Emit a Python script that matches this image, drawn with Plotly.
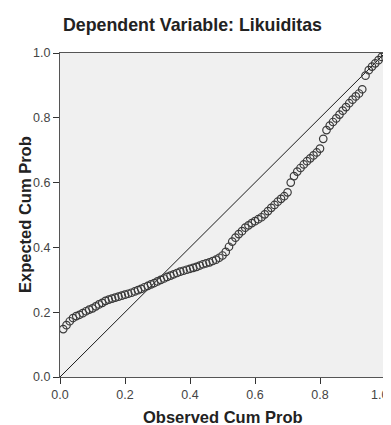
import plotly.graph_objects as go

observed_cum_prob = [
    0.01, 0.02, 0.03, 0.04, 0.05, 0.06, 0.07, 0.08, 0.09, 0.10,
    0.11, 0.12, 0.13, 0.14, 0.15, 0.16, 0.17, 0.18, 0.19, 0.20,
    0.21, 0.22, 0.23, 0.24, 0.25, 0.26, 0.27, 0.28, 0.29, 0.30,
    0.31, 0.32, 0.33, 0.34, 0.35, 0.36, 0.37, 0.38, 0.39, 0.40,
    0.41, 0.42, 0.43, 0.44, 0.45, 0.46, 0.47, 0.48, 0.49, 0.50,
    0.51, 0.52, 0.53, 0.54, 0.55, 0.56, 0.57, 0.58, 0.59, 0.60,
    0.61, 0.62, 0.63, 0.64, 0.65, 0.66, 0.67, 0.68, 0.69, 0.70,
    0.71, 0.72, 0.73, 0.74, 0.75, 0.76, 0.77, 0.78, 0.79, 0.80,
    0.81, 0.82, 0.83, 0.84, 0.85, 0.86, 0.87, 0.88, 0.89, 0.90,
    0.91, 0.92, 0.93, 0.94, 0.95, 0.96, 0.97, 0.98, 0.99, 1.00,
]

expected_cum_prob = [
    0.148, 0.160, 0.172, 0.182, 0.188, 0.192, 0.197, 0.203, 0.208, 0.212,
    0.218, 0.224, 0.229, 0.235, 0.239, 0.242, 0.245, 0.248, 0.251, 0.254,
    0.257, 0.260, 0.264, 0.268, 0.272, 0.277, 0.281, 0.286, 0.290, 0.295,
    0.300, 0.304, 0.309, 0.313, 0.317, 0.321, 0.325, 0.328, 0.331, 0.334,
    0.337, 0.340, 0.344, 0.348, 0.351, 0.354, 0.358, 0.362, 0.368, 0.375,
    0.386, 0.402, 0.418, 0.430, 0.441, 0.450, 0.461, 0.468, 0.475, 0.481,
    0.487, 0.493, 0.502, 0.512, 0.522, 0.531, 0.541, 0.550, 0.558, 0.570,
    0.600, 0.620, 0.634, 0.645, 0.656, 0.666, 0.675, 0.684, 0.693, 0.705,
    0.735, 0.762, 0.776, 0.787, 0.798, 0.810, 0.822, 0.833, 0.845, 0.856,
    0.866, 0.875, 0.888, 0.930, 0.947, 0.958, 0.968, 0.978, 0.988, 0.997,
]

reference_line = [0.0, 1.0]
tick_values = [0.0, 0.2, 0.4, 0.6, 0.8, 1.0]
tick_labels = ["0.0", "0.2", "0.4", "0.6", "0.8", "1.0"]

FONT = "Liberation Sans, Arial, sans-serif"
TICK_FONT = dict(family=FONT, size=12.5, color="#444444")

fig = go.Figure()
fig.add_trace(go.Scatter(
    x=reference_line, y=reference_line, mode="lines",
    line=dict(color="#1a1a1a", width=1), hoverinfo="skip", showlegend=False,
))
fig.add_trace(go.Scatter(
    x=observed_cum_prob, y=expected_cum_prob, mode="markers",
    marker=dict(symbol="circle-open", size=7.5, color="#3a3a3a",
                line=dict(width=1.2, color="#3a3a3a")),
    showlegend=False,
))

axis_common = dict(
    range=[0, 1], tickvals=tick_values,
    showgrid=False, zeroline=False, showline=True, mirror=True,
    linecolor="#555555", linewidth=1.2, ticks="outside", ticklen=6,
    tickcolor="#333333", automargin=False, ticklabeloverflow="allow",
    tickfont=TICK_FONT,
)

# last x tick label is drawn as an annotation nudged left so it stays inside the window
x_tick_text = tick_labels[:-1] + [""]

# The page body adds an 8px offset, so the figure is sized to fit the window.
fig.update_layout(
    width=383, height=417,
    margin=dict(l=52, r=6, t=45, b=48),
    paper_bgcolor="white", plot_bgcolor="#f0f0f0",
    title=dict(text="<b>Dependent Variable: Likuiditas</b>", x=0.4817, xref="container",
               xanchor="center", y=0.9604, yref="container", yanchor="middle",
               font=dict(family=FONT, size=17.8, color="#222222")),
    xaxis=dict(**axis_common, ticktext=x_tick_text),
    yaxis=dict(**axis_common, ticktext=tick_labels),
    annotations=[
        dict(text=tick_labels[-1], xref="x", yref="paper", x=tick_values[-1], y=0,
             xanchor="right", yanchor="middle", xshift=5, yshift=-17.5,
             showarrow=False, font=TICK_FONT),
        dict(text="<b>Observed Cum Prob</b>", xref="paper", yref="paper",
             x=0.5, y=0, xanchor="center", yanchor="middle", yshift=-40,
             showarrow=False, font=dict(family=FONT, size=16.5, color="#222222")),
        dict(text="<b>Expected Cum Prob</b>", xref="paper", yref="paper",
             x=0, y=0.5, xanchor="center", yanchor="middle", xshift=-35,
             textangle=-90, showarrow=False,
             font=dict(family=FONT, size=16.5, color="#222222")),
    ],
)

fig.write_html("out.html")
